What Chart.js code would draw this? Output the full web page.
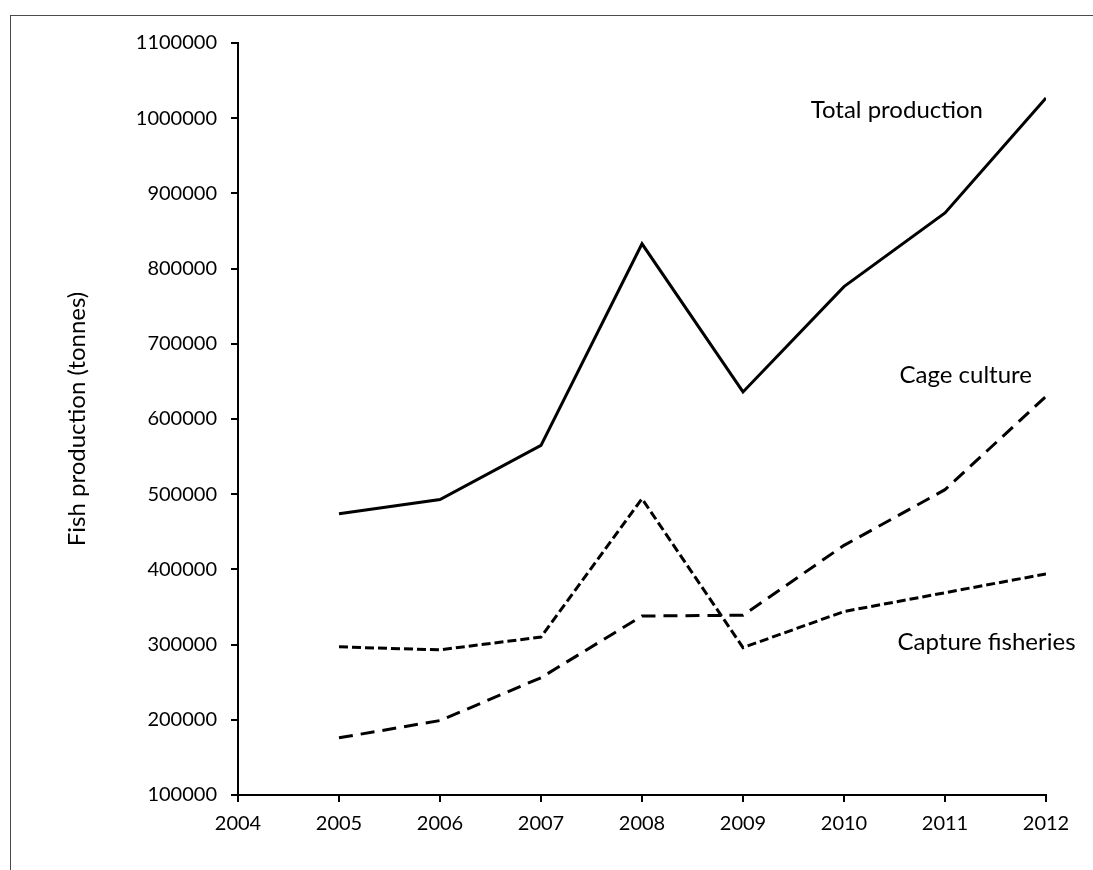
<!DOCTYPE html>
<html>
<head>
<meta charset="utf-8">
<script src="https://cdn.jsdelivr.net/npm/chart.js@4"></script>
<style>
  html, body { margin: 0; padding: 0; background: #fff; }
  #wrap { width: 1093px; height: 870px; position: relative; }
</style>
</head>
<body>
<div id="wrap"><canvas id="myChart" width="1093" height="870"></canvas></div>
<script>
const years = [2005, 2006, 2007, 2008, 2009, 2010, 2011, 2012];
const totalProduction = [474000, 493000, 565000, 833000, 636000, 776000, 874000, 1027000];
const cageCulture = [176000, 199000, 256000, 338000, 339000, 432000, 506000, 630000];
const captureFisheries = [297000, 293000, 310000, 494000, 296000, 344000, 369000, 394000];

const xTicks = [2004, 2012];
const yTicks = [100000, 1100000];

// series labels, placed in data units
const seriesLabels = [
    { text: 'Total production', x: 2009.67, y: 1011000 },
    { text: 'Cage culture', x: 2010.55, y: 658000 },
    { text: 'Capture fisheries', x: 2010.53, y: 303000 }
];

const FONT = 'Lato, "Open Sans", sans-serif';

function toPoints(values) {
    return values.map((v, i) => ({ x: years[i], y: v }));
}

const frameAndLabels = {
    id: 'frameAndLabels',
    beforeDraw(chart) {
        const ctx = chart.ctx;
        ctx.save();
        ctx.strokeStyle = '#4a4a4a';
        ctx.lineWidth = 1;
        ctx.strokeRect(10.5, 15.5, 2000, 2000);
        ctx.restore();
    },
    afterDatasetsDraw(chart) {
        const { ctx, scales: { x, y } } = chart;
        ctx.save();
        ctx.fillStyle = '#000';
        ctx.font = '24px ' + FONT;
        ctx.textAlign = 'left';
        ctx.textBaseline = 'middle';
        seriesLabels.forEach(l => {
            ctx.fillText(l.text, x.getPixelForValue(l.x), y.getPixelForValue(l.y));
        });
        ctx.restore();
    }
};

const ctx = document.getElementById('myChart').getContext('2d');
const chart = new Chart(ctx, {
    type: 'line',
    data: {
        datasets: [{
            label: 'Total production',
            data: toPoints(totalProduction),
            borderColor: '#000',
            borderWidth: 3,
            pointRadius: 0,
            tension: 0
        }, {
            label: 'Cage culture',
            data: toPoints(cageCulture),
            borderColor: '#000',
            borderWidth: 3,
            borderDash: [14, 8],
            pointRadius: 0,
            tension: 0
        }, {
            label: 'Capture fisheries',
            data: toPoints(captureFisheries),
            borderColor: '#000',
            borderWidth: 3,
            borderDash: [9, 4],
            pointRadius: 0,
            tension: 0
        }]
    },
    options: {
        responsive: false,
        animation: false,
        layout: {
            padding: { left: 0, top: 43, right: 47, bottom: 0 }
        },
        plugins: {
            legend: { display: false },
            tooltip: { enabled: false }
        },
        scales: {
            x: {
                type: 'linear',
                min: xTicks[0],
                max: xTicks[1],
                afterFit(scale) { scale.height = 75; },
                ticks: {
                    stepSize: 1,
                    color: '#000',
                    padding: 10,
                    font: { family: FONT, size: 20 },
                    callback: v => String(v)
                },
                grid: {
                    drawOnChartArea: false,
                    color: '#000',
                    lineWidth: 2,
                    tickLength: 7
                },
                border: { color: '#000', width: 2 }
            },
            y: {
                min: yTicks[0],
                max: yTicks[1],
                afterFit(scale) { scale.width = 238; },
                ticks: {
                    stepSize: 100000,
                    color: '#000',
                    padding: 14,
                    font: { family: FONT, size: 20 },
                    callback: v => String(v)
                },
                grid: {
                    drawOnChartArea: false,
                    color: '#000',
                    lineWidth: 2,
                    tickLength: 7
                },
                border: { color: '#000', width: 2 },
                title: {
                    display: true,
                    text: 'Fish production (tonnes)',
                    color: '#000',
                    font: { family: FONT, size: 24 },
                    padding: { top: 63, bottom: 0 }
                }
            }
        }
    },
    plugins: [frameAndLabels]
});
</script>
</body>
</html>
